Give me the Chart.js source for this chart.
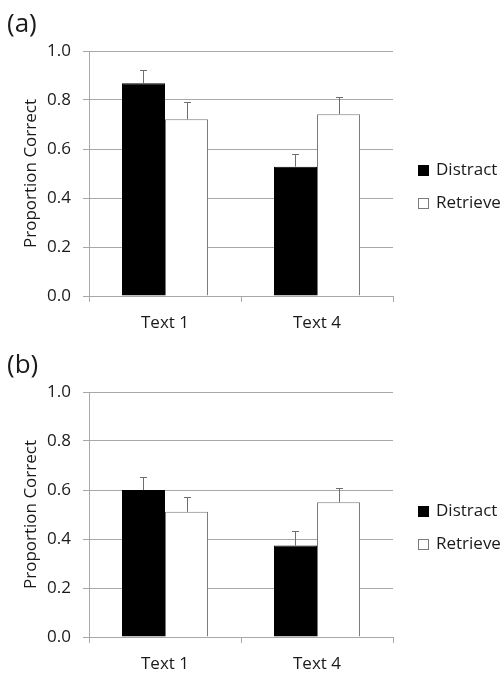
<!DOCTYPE html>
<html>
<head>
<meta charset="utf-8">
<script src="https://cdn.jsdelivr.net/npm/chart.js@4.4.1/dist/chart.umd.min.js"></script>
<style>
html, body { margin: 0; padding: 0; background: #fff; overflow: hidden; }
body { width: 502px; height: 674px; position: relative; font-family: 'Open Sans', sans-serif; }
.panel { position: absolute; left: 0; width: 502px; height: 337px; }
.tag { position: absolute; left: 7px; font-size: 26px; line-height: 1; color: #1a1a1a; }
</style>
</head>
<body>
<div class="panel" style="top:0">
  <canvas id="chartA" width="502" height="337"></canvas>
  <div class="tag" style="top:9px">(a)</div>
</div>
<div class="panel" style="top:341px">
  <canvas id="chartB" width="502" height="337"></canvas>
  <div class="tag" style="top:9px">(b)</div>
</div>
<script>
// --- Daten ---
const categories = ['Text 1', 'Text 4'];
const seriesNames = ['Distract', 'Retrieve'];
const yTicks = [0, 0.2, 0.4, 0.6, 0.8, 1.0];

// Panel (a)
const distractA = [0.868, 0.528];
const retrieveA = [0.721, 0.742];
const distractErrA = [0.054, 0.053];
const retrieveErrA = [0.072, 0.071];

// Panel (b)
const distractB = [0.600, 0.373];
const retrieveB = [0.511, 0.550];
const distractErrB = [0.053, 0.059];
const retrieveErrB = [0.059, 0.060];

const gridGrey = '#a8a8a8';
const textColor = '#1a1a1a';

// Fehlerbalken (nur nach oben, mit Kappe)
const errorBars = {
    id: 'errorBars',
    afterDatasetsDraw(chart) {
        const ctx = chart.ctx;
        const yScale = chart.scales.y;
        ctx.save();
        ctx.strokeStyle = '#6e6e6e';
        ctx.lineWidth = 1;
        chart.data.datasets.forEach((ds, i) => {
            const meta = chart.getDatasetMeta(i);
            meta.data.forEach((bar, j) => {
                const top = yScale.getPixelForValue(ds.data[j] + ds.errors[j]);
                const x = Math.round(bar.x) + 0.5;
                ctx.beginPath();
                ctx.moveTo(x, bar.y);
                ctx.lineTo(x, Math.round(top) + 0.5);
                ctx.moveTo(x - 3.5, Math.round(top) + 0.5);
                ctx.lineTo(x + 3.5, Math.round(top) + 0.5);
                ctx.stroke();
            });
        });
        ctx.restore();
    }
};

// Legende rechts neben dem Diagramm
const sideLegend = {
    id: 'sideLegend',
    afterDraw(chart) {
        const ctx = chart.ctx;
        ctx.save();
        ctx.font = '17px "Open Sans"';
        ctx.textBaseline = 'middle';
        chart.data.datasets.forEach((ds, i) => {
            const cy = 170.5 + i * 33;
            ctx.fillStyle = ds.backgroundColor;
            ctx.fillRect(418, cy - 5.5, 11, 11);
            ctx.strokeStyle = ds.borderColor;
            ctx.lineWidth = 1;
            ctx.strokeRect(418.5, cy - 5, 10, 10);
            ctx.fillStyle = textColor;
            ctx.fillText(ds.label, 436, cy);
        });
        ctx.restore();
    }
};

function makeChart(id, distract, retrieve, distractErr, retrieveErr) {
    const ctx = document.getElementById(id).getContext('2d');
    return new Chart(ctx, {
        type: 'bar',
        data: {
            labels: categories,
            datasets: [
                {
                    label: seriesNames[0],
                    data: distract,
                    errors: distractErr,
                    backgroundColor: '#000000',
                    borderColor: '#000000',
                    borderWidth: 1
                },
                {
                    label: seriesNames[1],
                    data: retrieve,
                    errors: retrieveErr,
                    backgroundColor: '#ffffff',
                    borderColor: '#7a7a7a',
                    borderWidth: 1
                }
            ]
        },
        options: {
            responsive: false,
            animation: false,
            layout: { padding: { top: 51, right: 109, left: 0, bottom: 0 } },
            datasets: {
                bar: { categoryPercentage: 0.566, barPercentage: 1.0 }
            },
            plugins: {
                legend: { display: false },
                tooltip: { enabled: false }
            },
            scales: {
                x: {
                    afterFit: s => { s.height = 41; },
                    grid: {
                        offset: true,
                        drawOnChartArea: false,
                        drawTicks: true,
                        tickLength: 6,
                        color: gridGrey
                    },
                    border: { color: gridGrey },
                    ticks: {
                        color: textColor,
                        padding: 11,
                        font: { family: 'Open Sans', size: 17 }
                    }
                },
                y: {
                    min: 0,
                    max: 1,
                    afterFit: s => { s.width = 89; },
                    afterBuildTicks: s => { s.ticks = yTicks.map(v => ({ value: v })); },
                    grid: { color: gridGrey, tickLength: 6 },
                    border: { color: gridGrey },
                    ticks: {
                        color: textColor,
                        padding: 12,
                        font: { family: 'Open Sans', size: 17 }
                        ,
                        callback: v => v.toFixed(1)
                    },
                    title: {
                        display: true,
                        text: 'Proportion Correct',
                        color: textColor,
                        padding: { top: 21, bottom: 0 },
                        font: { family: 'Open Sans', size: 17 }
                    }
                }
            }
        },
        plugins: [errorBars, sideLegend]
    });
}

makeChart('chartA', distractA, retrieveA, distractErrA, retrieveErrA);
makeChart('chartB', distractB, retrieveB, distractErrB, retrieveErrB);
</script>
</body>
</html>
